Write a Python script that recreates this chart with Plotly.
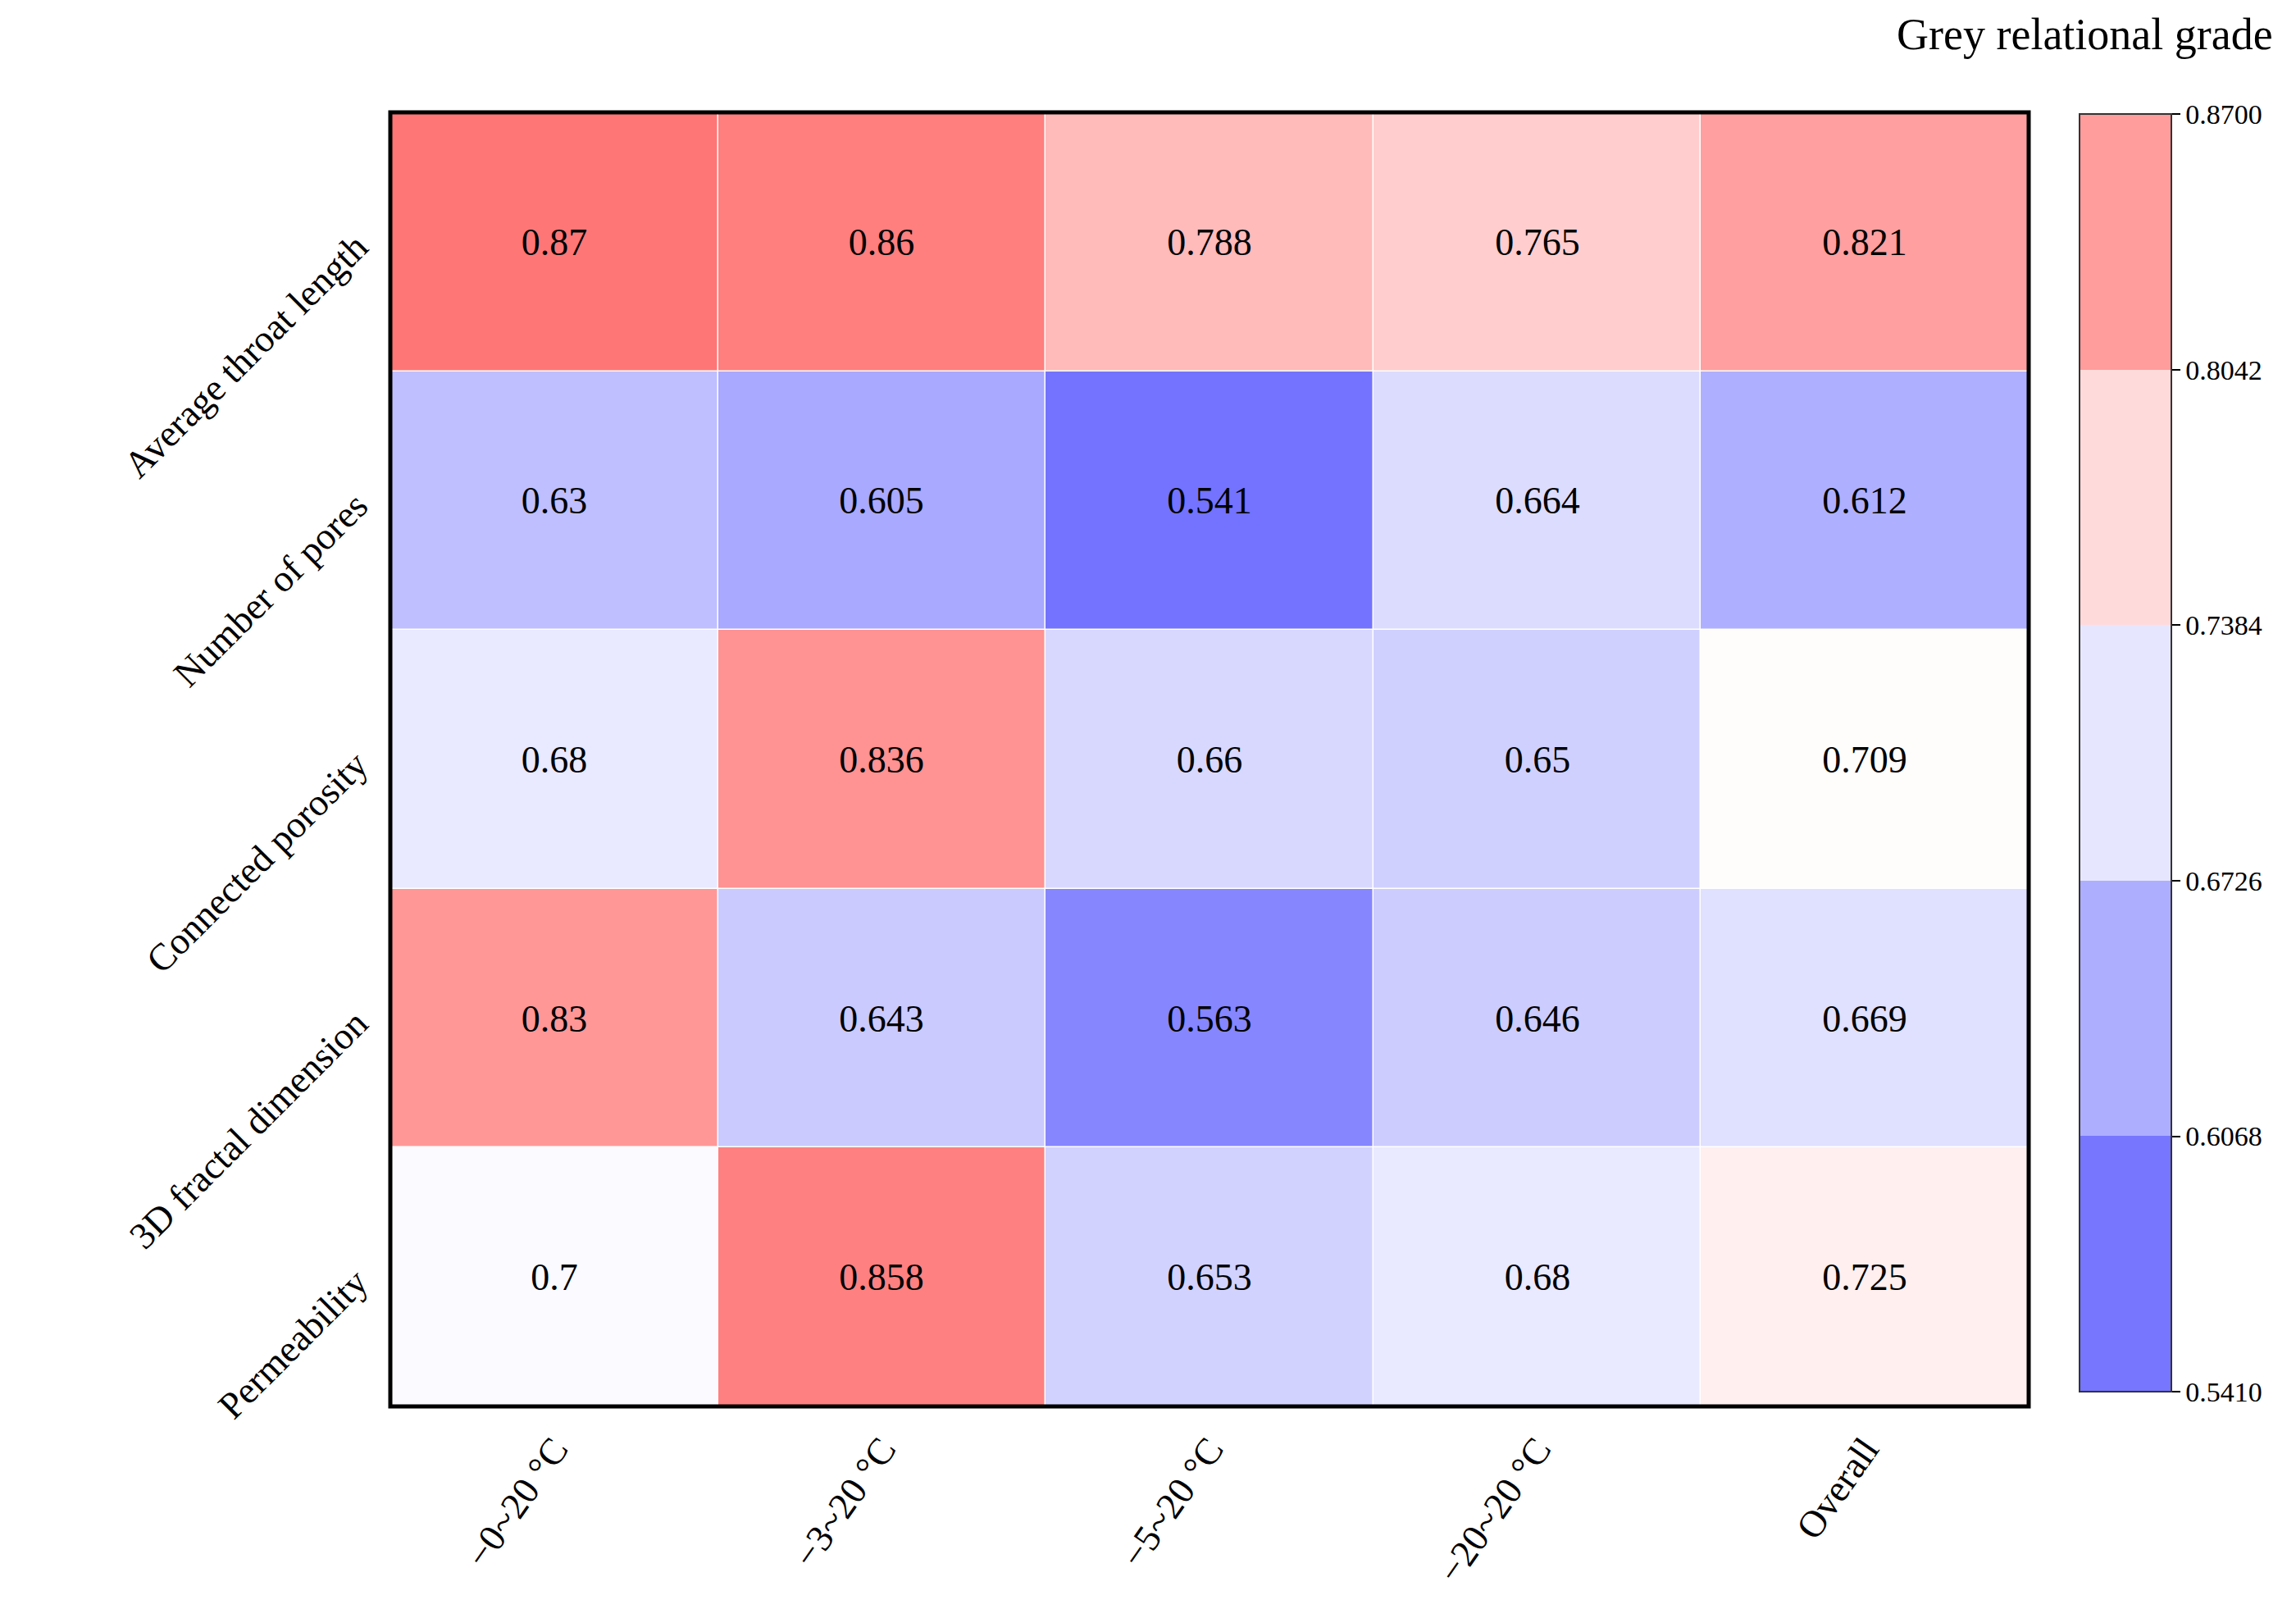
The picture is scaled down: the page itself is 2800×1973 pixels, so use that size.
import plotly.graph_objects as go

columns = ["\u22120~20 \u00b0C", "\u22123~20 \u00b0C", "\u22125~20 \u00b0C", "\u221220~20 \u00b0C", "Overall"]
rows = ["Average throat length", "Number of pores", "Connected porosity",
        "3D fractal dimension", "Permeability"]
grades = [
    [0.87, 0.86, 0.788, 0.765, 0.821],
    [0.63, 0.605, 0.541, 0.664, 0.612],
    [0.68, 0.836, 0.66, 0.65, 0.709],
    [0.83, 0.643, 0.563, 0.646, 0.669],
    [0.7, 0.858, 0.653, 0.68, 0.725],
]
cbar_ticks = [0.5410, 0.6068, 0.6726, 0.7384, 0.8042, 0.8700]
band_colors = ["#7676FF", "#AEAEFF", "#E6E6FF", "#FFDADA", "#FF9C9C"]

font = "Liberation Serif"
text = [[str(v) for v in r] for r in grades]
zmin, zmax = cbar_ticks[0], cbar_ticks[-1]

# stepped colour scale for the colour bar
steps = []
for i, c in enumerate(band_colors):
    steps.append([i / len(band_colors), c])
    steps.append([(i + 1) / len(band_colors), c])

fig = go.Figure()
fig.add_trace(go.Heatmap(
    z=grades, x=columns, y=rows, text=text, texttemplate="%{text}",
    textfont=dict(family=font, size=46, color="black"),
    zmin=zmin, zmax=zmax, xgap=1.5, ygap=1.5, showscale=False,
    colorscale=[[0, "#7373FF"], [0.5, "#FFFFFF"], [1, "#FF7676"]],
))
# invisible trace that only carries the stepped colour bar
fig.add_trace(go.Heatmap(
    z=[[zmin, zmax]], x=columns[:2], y=rows[:1], opacity=0, hoverinfo="skip",
    zmin=zmin, zmax=zmax, colorscale=steps,
    colorbar=dict(
        x=1.026, xanchor="left", y=1.005, yanchor="top", len=1.0,
        thickness=112, thicknessmode="pixels", outlinecolor="#333", outlinewidth=2,
        tickvals=cbar_ticks, ticktext=["%.4f" % t for t in cbar_ticks],
        ticks="outside", ticklen=10, tickwidth=2, tickcolor="black",
        tickfont=dict(family=font, size=34, color="black"),
    ),
))

fig.add_shape(type="rect", xref="paper", yref="paper", x0=0, x1=1, y0=0, y1=1,
              line=dict(color="black", width=5))
fig.add_annotation(text="Grey relational grade", xref="paper", yref="paper",
                   x=1.15, y=1.04, xanchor="right", yanchor="bottom", showarrow=False,
                   font=dict(family=font, size=54, color="black"))

fig.update_xaxes(tickangle=-55, tickfont=dict(family=font, size=46, color="black"),
                 showgrid=False, ticklabelstandoff=15)
fig.update_yaxes(autorange="reversed", tickangle=-45, ticklabelstandoff=40,
                 tickfont=dict(family=font, size=46, color="black"), showgrid=False)
fig.update_layout(
    width=2800, height=1973, plot_bgcolor="white", paper_bgcolor="white",
    margin=dict(l=468, r=334, t=129, b=266),
)
fig.write_html("out.html")
